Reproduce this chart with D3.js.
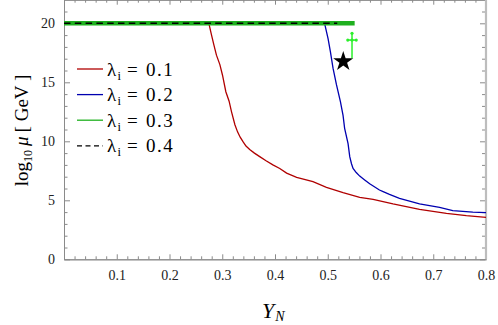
<!DOCTYPE html>
<html>
<head>
<meta charset="utf-8">
<script src="https://cdn.jsdelivr.net/npm/d3@7"></script>
<style>
  body { margin: 0; background: #fff; }
  svg { display: block; }
  .ax text { font-family: "Liberation Serif", "DejaVu Serif", serif; font-size: 14px; fill: #222; }
  .ax line, .ax path { stroke: #8a8a8a; }
</style>
</head>
<body>
<svg id="chart" width="498" height="325"></svg>
<script>
// lambda_i = 0.1 (red)
const redPts = [[0,20],[0.2746,20],[0.2797,19.0],[0.284,18.2],[0.289,17.3],[0.2955,16.5],[0.3005,15.6],
  [0.3068,14.2],[0.313,13.4],[0.3176,12.5],[0.324,11.4],[0.329,10.8],[0.334,10.35],[0.3396,9.95],[0.345,9.6],
  [0.352,9.3],[0.361,9.0],[0.371,8.7],[0.383,8.35],[0.396,8.0],[0.409,7.7],[0.422,7.3],[0.441,6.95],[0.472,6.58],[0.4975,6.1],
  [0.529,5.65],[0.5606,5.25],[0.586,5.08],[0.6237,4.69],[0.674,4.24],[0.725,3.9],[0.7627,3.7],[0.8,3.56]];
// lambda_i = 0.2 (blue)
const bluePts = [[0,20],[0.494,20],[0.5006,18.7],[0.505,17.6],[0.510,16.2],[0.5165,14.8],[0.524,13.36],
  [0.529,12.2],[0.532,11.1],[0.5385,9.8],[0.5417,8.7],[0.545,8.1],[0.548,7.7],[0.554,7.35],[0.5606,7.05],[0.57,6.72],
  [0.5795,6.4],[0.598,5.87],[0.605,5.73],[0.617,5.5],[0.636,5.17],[0.674,4.69],[0.712,4.4],[0.737,4.12],[0.775,4.0],[0.8,3.95]];
// lambda_i = 0.3 (green), 0.4 (dashed)
const greenPts = [[0,20],[0.551,20]];
const blackPts = [[0,20],[0.518,20]];

const starPt = [0.5294, 16.76];
// point with error bars: x, y, xerr, y up, y down
const crossPt = {x: 0.546, y: 18.58, xe: 0.008, yu: 0.57, yd: 1.55};

const xMajor = [0.1,0.2,0.3,0.4,0.5,0.6,0.7,0.8];
const yMajor = [0,5,10,15,20];
const legendLabels = ["0.1","0.2","0.3","0.4"];

const svg = d3.select('#chart');
const serif = '"Liberation Serif", "DejaVu Serif", serif';

const x = d3.scaleLinear().domain([0,0.8]).range([64,486]);
const y = d3.scaleLinear().domain([0,22]).range([259.3,-0.3]);

const xMinor = d3.range(0.02,0.8,0.02).filter(v => Math.abs(v*10 - Math.round(v*10)) > 1e-6);
const yMinor = d3.range(1,22,1).filter(v => v % 5 != 0);

// axes
function addAxis(axis, tr){
  const g = svg.append('g').attr('class','ax').attr('transform',tr).call(axis);
  return g;
}
addAxis(d3.axisBottom(x).tickValues(xMajor).tickFormat(d3.format('.1f')).tickSizeInner(-5).tickSizeOuter(0).tickPadding(11), `translate(0,${y(0)})`);
addAxis(d3.axisBottom(x).tickValues(xMinor).tickFormat('').tickSizeInner(-3).tickSizeOuter(0), `translate(0,${y(0)})`);
addAxis(d3.axisLeft(y).tickValues(yMajor).tickSizeInner(-6).tickSizeOuter(0).tickPadding(9), `translate(${x(0)},0)`);
addAxis(d3.axisLeft(y).tickValues(yMinor).tickFormat('').tickSizeInner(-3.5).tickSizeOuter(0), `translate(${x(0)},0)`);
addAxis(d3.axisTop(x).tickValues(xMajor).tickFormat('').tickSizeInner(-5).tickSizeOuter(0), `translate(0,${y(22)})`);
addAxis(d3.axisTop(x).tickValues(xMinor).tickFormat('').tickSizeInner(-3).tickSizeOuter(0), `translate(0,${y(22)})`);
addAxis(d3.axisRight(y).tickValues(yMajor).tickFormat('').tickSizeInner(-5).tickSizeOuter(0), `translate(${x(0.8)-1},0)`);
addAxis(d3.axisRight(y).tickValues(yMinor).tickFormat('').tickSizeInner(-3).tickSizeOuter(0), `translate(${x(0.8)-1},0)`);
svg.selectAll('.ax .domain').attr('stroke','#8a8a8a');
// right frame is drawn lighter and thicker
svg.append('line').attr('x1',x(0.8)).attr('x2',x(0.8)).attr('y1',y(22)).attr('y2',y(0))
  .attr('stroke','#bdbdbd').attr('stroke-width',2.2);

// curves
const line = d3.line().x(d => x(d[0])).y(d => y(d[1]));
svg.append('path').datum(redPts).attr('d',line).attr('fill','none').attr('stroke','#b00000').attr('stroke-width',1.3);
svg.append('path').datum(bluePts).attr('d',line).attr('fill','none').attr('stroke','#0000b0').attr('stroke-width',1.3);
svg.append('path').datum(greenPts).attr('d',line).attr('fill','none').attr('stroke','#1fb01f').attr('stroke-width',4.6);
svg.append('path').datum(blackPts).attr('d',line).attr('fill','none').attr('stroke','#000').attr('stroke-width',1.5)
  .attr('stroke-dasharray','6.5,4.3');

// star marker
svg.append('path').attr('d',d3.symbol(d3.symbolStar,125)())
  .attr('transform',`translate(${x(starPt[0])},${y(starPt[1])})`).attr('fill','#000');

// green cross with error bars
const cg = svg.append('g').attr('stroke','#2bef2b').attr('fill','#2bef2b');
cg.append('line').attr('x1',x(crossPt.x)).attr('x2',x(crossPt.x))
  .attr('y1',y(crossPt.y+crossPt.yu)).attr('y2',y(crossPt.y-crossPt.yd)).attr('stroke-width',1.5);
cg.append('line').attr('x1',x(crossPt.x-crossPt.xe)).attr('x2',x(crossPt.x+crossPt.xe))
  .attr('y1',y(crossPt.y)).attr('y2',y(crossPt.y)).attr('stroke-width',1.5);
[[crossPt.x,crossPt.y+crossPt.yu],[crossPt.x-crossPt.xe,crossPt.y],[crossPt.x+crossPt.xe,crossPt.y],[crossPt.x,crossPt.y]]
  .forEach(p => cg.append('circle').attr('cx',x(p[0])).attr('cy',y(p[1])).attr('r',1.6).attr('stroke','none'));

// legend
const legColors = ['#b00000','#0000b0','#1fb01f','#000'];
legendLabels.forEach((lab,i) => {
  const ly = 69 + i*25.6;
  svg.append('line').attr('x1',77).attr('x2',103).attr('y1',ly).attr('y2',ly)
    .attr('stroke',legColors[i]).attr('stroke-width',1.3)
    .attr('stroke-dasharray', i==3 ? '5,3.5' : null);
  const t = svg.append('text').attr('y',ly+6.5).attr('font-family',serif).attr('font-size',19).attr('fill','#000');
  t.append('tspan').attr('x',107).text('λ');
  t.append('tspan').attr('x',117.5).attr('dy',4).attr('font-size',12.5).text('i');
  t.append('tspan').attr('x',127).attr('dy',-4).text('=');
  t.append('tspan').attr('x',146).attr('letter-spacing',1.5).text(lab);
});

// axis titles
const xt = svg.append('text').attr('x',262).attr('y',318).attr('font-family',serif).attr('font-style','italic').attr('font-size',22);
xt.append('tspan').text('Y');
xt.append('tspan').attr('font-size',14).attr('dy',3).attr('dx',1).text('N');

const yt = svg.append('text').attr('transform','translate(28,130.5) rotate(-90)')
  .attr('text-anchor','middle').attr('font-family',serif).attr('font-size',19);
yt.append('tspan').text('log');
yt.append('tspan').attr('font-size',12).attr('dy',4).text('10');
yt.append('tspan').attr('dy',-4).attr('dx',4).attr('font-style','italic').text('μ');
yt.append('tspan').attr('dx',4).text('[ GeV ]');
</script>
</body>
</html>
